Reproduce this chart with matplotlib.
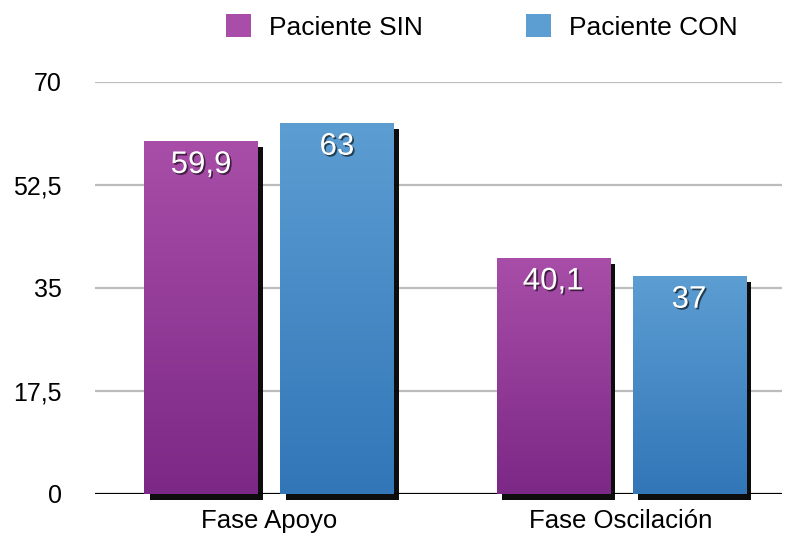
import numpy as np
import matplotlib.pyplot as plt
import matplotlib.patheffects as pe
from matplotlib.colors import LinearSegmentedColormap
from matplotlib.patches import Patch

categories = ["Fase Apoyo", "Fase Oscilación"]
series = ["Paciente SIN", "Paciente CON"]
sin_vals = [59.9, 40.1]
con_vals = [63, 37]
value_labels = [["59,9", "40,1"], ["63", "37"]]
yticks = [0, 17.5, 35, 52.5, 70]
ytick_labels = ["0", "17,5", "35", "52,5", "70"]

plt.rcParams['font.family'] = ['Liberation Sans', 'DejaVu Sans']

fig = plt.figure(figsize=(7.86, 5.33), dpi=100)
ax = fig.add_axes([0.1209, 0.0732, 0.874, 0.7730])

grads = [("#a84ea8", "#7c2886"), ("#5c9dd2", "#3276b8")]
x = np.arange(len(categories))
w = 0.321
off = 0.193

for k, vals in enumerate([sin_vals, con_vals]):
    top, bot = grads[k]
    cmap = LinearSegmentedColormap.from_list("g%d" % k, [bot, top])
    bars = ax.bar(x + (2 * k - 1) * off, vals, w, color=top, zorder=3, clip_on=False,
                  path_effects=[pe.SimplePatchShadow(offset=(4, -4), shadow_rgbFace='black', alpha=0.95),
                                pe.Normal()])
    for b, lab in zip(bars, value_labels[k]):
        x0, h = b.get_x(), b.get_height()
        grad = np.linspace(0, 1, 256).reshape(-1, 1)
        im = ax.imshow(grad, cmap=cmap, origin='lower', aspect='auto',
                       extent=[x0, x0 + w, 0, h], zorder=4)
        im.set_clip_path(b)
        ax.text(x0 + w / 2, h - 4.0, lab, ha='center', va='center', color='white', fontsize=22.5,
                zorder=6,
                path_effects=[pe.withSimplePatchShadow(offset=(1.2, -1.2), shadow_rgbFace='black', alpha=0.6)])

ax.set_xlim(-0.494, 1.457)
ax.set_ylim(0, 70)
ax.set_yticks(yticks)
ax.set_yticklabels(ytick_labels)
ax.set_xticks(x)
ax.set_xticklabels(categories)
ax.tick_params(axis='y', length=0, pad=24, labelsize=18)
ax.tick_params(axis='x', length=0, pad=11, labelsize=18.5)
for s in ax.spines.values():
    s.set_visible(False)
for yv in yticks[1:]:
    ax.axhline(yv, color='#bcbcbc', lw=1.6, zorder=1)
ax.axhline(0, color='black', lw=1.6, zorder=2)

handles = [Patch(facecolor=grads[0][0], edgecolor='none'), Patch(facecolor=grads[1][0], edgecolor='none')]
fig.legend(handles, series, loc='center', bbox_to_anchor=(0.613, 0.949), ncol=2, frameon=False,
           fontsize=19, handlelength=0.95, handleheight=0.95, handletextpad=0.7, columnspacing=3.9)

fig.savefig("out.png", dpi=100)
